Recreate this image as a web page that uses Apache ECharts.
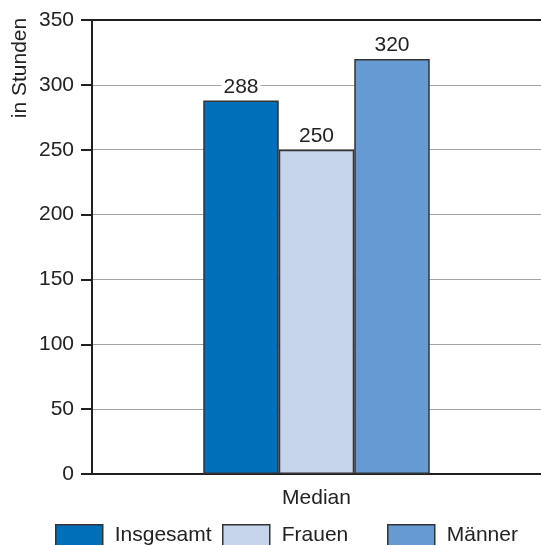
<!DOCTYPE html>
<html>
<head>
<meta charset="utf-8">
<script src="https://cdn.jsdelivr.net/npm/echarts@6/dist/echarts.min.js"></script>
<style>
  html, body { margin: 0; padding: 0; background: #fff; }
  #chart { width: 541px; height: 545px; }
</style>
</head>
<body>
<div id="chart"></div>
<script>
// Median hours, overall and by gender
const categories = ['Median'];
const seriesNames = ['Insgesamt', 'Frauen', 'Männer'];
const insgesamt = [288];
const frauen = [250];
const maenner = [320];
const yTicks = [0, 50, 100, 150, 200, 250, 300, 350];

const colors = ['#006fb9', '#c6d4ec', '#659ad2'];
const font = 'Liberation Sans, Arial, Helvetica, sans-serif';
const fs = 21;
const textColor = '#222';
const dark = '#231f20';

const chart = echarts.init(document.getElementById('chart'));

function bar(name, values, color) {
  return {
    name: name,
    type: 'bar',
    data: values,
    barWidth: 75.5,
    barGap: '0%',
    itemStyle: { color: color, borderColor: '#333', borderWidth: 1.5 },
    label: {
      show: true,
      position: 'top',
      distance: 3,
      fontSize: fs,
      fontFamily: font,
      color: textColor,
      backgroundColor: '#fff',
      padding: [0, 2]
    }
  };
}

function legendAt(left, name) {
  return {
    data: [name],
    left: left,
    top: 524,
    padding: 0,
    itemWidth: 47,
    itemHeight: 21,
    icon: 'rect',
    selectedMode: false,
    itemStyle: { borderColor: '#333', borderWidth: 1.5 },
    textStyle: { fontSize: fs, fontFamily: font, color: textColor, padding: [2, 0, 0, 7] }
  };
}

chart.setOption({
  animation: false,
  textStyle: { fontFamily: font },
  grid: { left: 92, right: -6, top: 20, bottom: 71, containLabel: false },
  legend: [
    legendAt(55, seriesNames[0]),
    legendAt(222, seriesNames[1]),
    legendAt(387, seriesNames[2])
  ],
  graphic: [{
    type: 'text',
    x: 20,
    y: 68,
    rotation: Math.PI / 2,
    style: {
      text: 'in Stunden',
      fontSize: fs,
      fontFamily: font,
      fill: textColor,
      textAlign: 'center',
      textVerticalAlign: 'middle'
    }
  }],
  xAxis: [{
    type: 'category',
    data: categories,
    axisLine: { show: true, lineStyle: { color: dark, width: 2 } },
    axisTick: { show: false },
    axisLabel: { fontSize: fs, fontFamily: font, color: textColor, margin: 14 }
  }, {
    // top border of the plot area
    type: 'category',
    data: categories,
    position: 'top',
    axisLine: { show: true, lineStyle: { color: dark, width: 2 } },
    axisTick: { show: false },
    axisLabel: { show: false }
  }],
  yAxis: {
    type: 'value',
    min: yTicks[0],
    max: yTicks[yTicks.length - 1],
    interval: yTicks[1] - yTicks[0],
    axisLine: { show: true, lineStyle: { color: dark, width: 2 } },
    axisTick: { show: true, length: 11, lineStyle: { color: dark, width: 2 } },
    axisLabel: { fontSize: fs, fontFamily: font, color: textColor, margin: 18, padding: [5, 0, 0, 0] },
    splitLine: { show: true, lineStyle: { color: '#a3a3a3', width: 1 } }
  },
  series: [
    bar(seriesNames[0], insgesamt, colors[0]),
    bar(seriesNames[1], frauen, colors[1]),
    bar(seriesNames[2], maenner, colors[2])
  ]
});
</script>
</body>
</html>
